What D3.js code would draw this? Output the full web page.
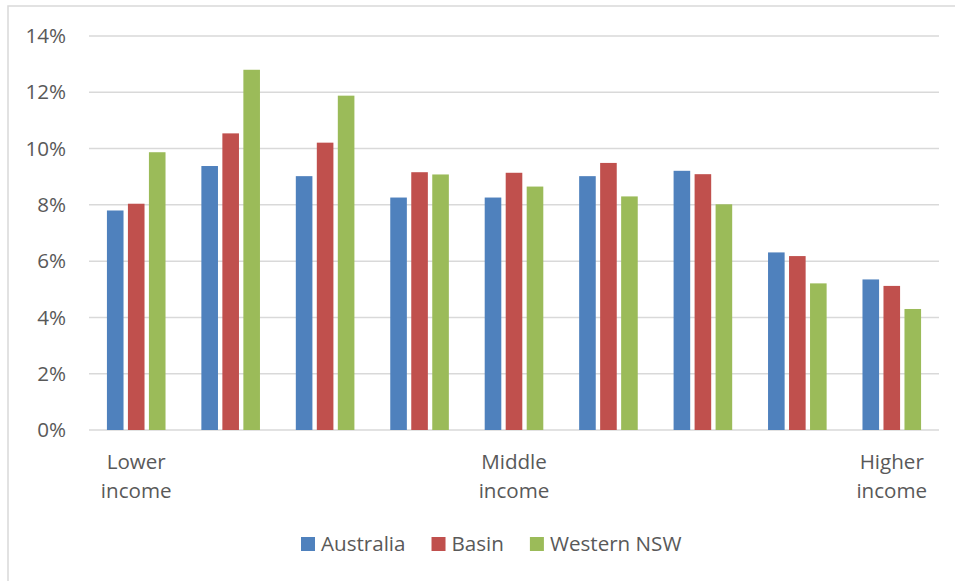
<!DOCTYPE html>
<html>
<head>
<meta charset="utf-8">
<script src="https://cdn.jsdelivr.net/npm/d3@7"></script>
<style>
  html, body { margin: 0; padding: 0; background: #fff; }
  svg { display: block; font-family: "Open Sans", sans-serif; }
</style>
</head>
<body>
<svg id="chart" width="955" height="581"></svg>
<script>
// data
const groups = ['g1', 'g2', 'g3', 'g4', 'g5', 'g6', 'g7', 'g8', 'g9'];
const groupLabels = {g1: ['Lower', 'income'], g5: ['Middle', 'income'], g9: ['Higher', 'income']};
const seriesNames = ['Australia', 'Basin', 'Western NSW'];
const seriesColors = ['#4F81BD', '#C0504D', '#9BBB59'];
const australia = [7.8, 9.38, 9.02, 8.26, 8.26, 9.02, 9.21, 6.31, 5.35];
const basin = [8.04, 10.54, 10.21, 9.16, 9.14, 9.49, 9.09, 6.18, 5.12];
const westernNSW = [9.87, 12.8, 11.88, 9.08, 8.65, 8.3, 8.02, 5.21, 4.3];
const yTicks = [0, 2, 4, 6, 8, 10, 12, 14];

const values = [australia, basin, westernNSW];

const
  svg = d3.select('#chart'),
  margin = {top: 36, left: 89, right: 16, bottom: 151},
  width = 955 - margin.left - margin.right,
  height = 581 - margin.top - margin.bottom,
  textColor = '#595959',
  gridColor = '#d9d9d9',
  fontSize = '20.6px'
  ;

// chart frame
svg.append('rect')
  .attr('x', 8).attr('y', 6)
  .attr('width', 1000).attr('height', 700)
  .attr('fill', 'none')
  .attr('stroke', gridColor)
  .attr('stroke-width', 1.5);

const g = svg.append('g').attr('transform', `translate(${margin.left},${margin.top})`);

const
  x0 = d3.scaleBand().domain(groups).range([0, width]).paddingInner(0.333).paddingOuter(0.1665),
  x1 = d3.scaleBand().domain(seriesNames).range([0, x0.bandwidth()]),
  y = d3.scaleLinear().domain([0, 14]).range([height, 0])
  ;

// gridlines
g.append('g')
  .selectAll('line')
  .data(yTicks)
  .join('line')
  .attr('x1', 0).attr('x2', width)
  .attr('y1', d => y(d)).attr('y2', d => y(d))
  .attr('stroke', gridColor)
  .attr('stroke-width', 1.5);

// y axis labels
const axisY = d3.axisLeft(y).tickValues(yTicks).tickFormat(d => d + '%').tickSize(0).tickPadding(23);
g.append('g')
  .call(axisY)
  .call(a => a.select('.domain').remove())
  .selectAll('text')
  .attr('fill', textColor)
  .style('font-size', fontSize)
  .style('font-family', '"Open Sans", sans-serif');

// bars
const inset = 2.2;
g.append('g')
  .selectAll('g')
  .data(groups)
  .join('g')
  .attr('transform', d => `translate(${x0(d)},0)`)
  .selectAll('rect')
  .data((d, i) => seriesNames.map((s, k) => ({s, k, v: values[k][i]})))
  .join('rect')
  .attr('x', d => x1(d.s) + inset)
  .attr('width', x1.bandwidth() - inset * 2)
  .attr('y', d => y(d.v))
  .attr('height', d => y(0) - y(d.v))
  .attr('fill', d => seriesColors[d.k]);

// category labels (only some groups carry one)
const cats = g.append('g')
  .selectAll('text')
  .data(groups.filter(d => groupLabels[d]))
  .join('text')
  .attr('x', d => x0(d) + x0.bandwidth() / 2)
  .attr('y', height + 39)
  .attr('text-anchor', 'middle')
  .attr('fill', textColor)
  .style('font-size', fontSize);
cats.selectAll('tspan')
  .data(d => groupLabels[d])
  .join('tspan')
  .attr('x', function() { return d3.select(this.parentNode).attr('x'); })
  .attr('dy', (d, i) => i ? 29 : 0)
  .text(d => d);

// legend
const legend = svg.append('g').attr('transform', 'translate(301,537)');
let lx = 0;
seriesNames.forEach((s, i) => {
  const item = legend.append('g').attr('transform', `translate(${lx},0)`);
  item.append('rect').attr('width', 14).attr('height', 14).attr('fill', seriesColors[i]);
  const t = item.append('text')
    .attr('x', 20).attr('y', 14)
    .attr('fill', textColor)
    .style('font-size', fontSize)
    .text(s);
  lx += 20 + t.node().getComputedTextLength() + 26;
});
</script>
</body>
</html>
